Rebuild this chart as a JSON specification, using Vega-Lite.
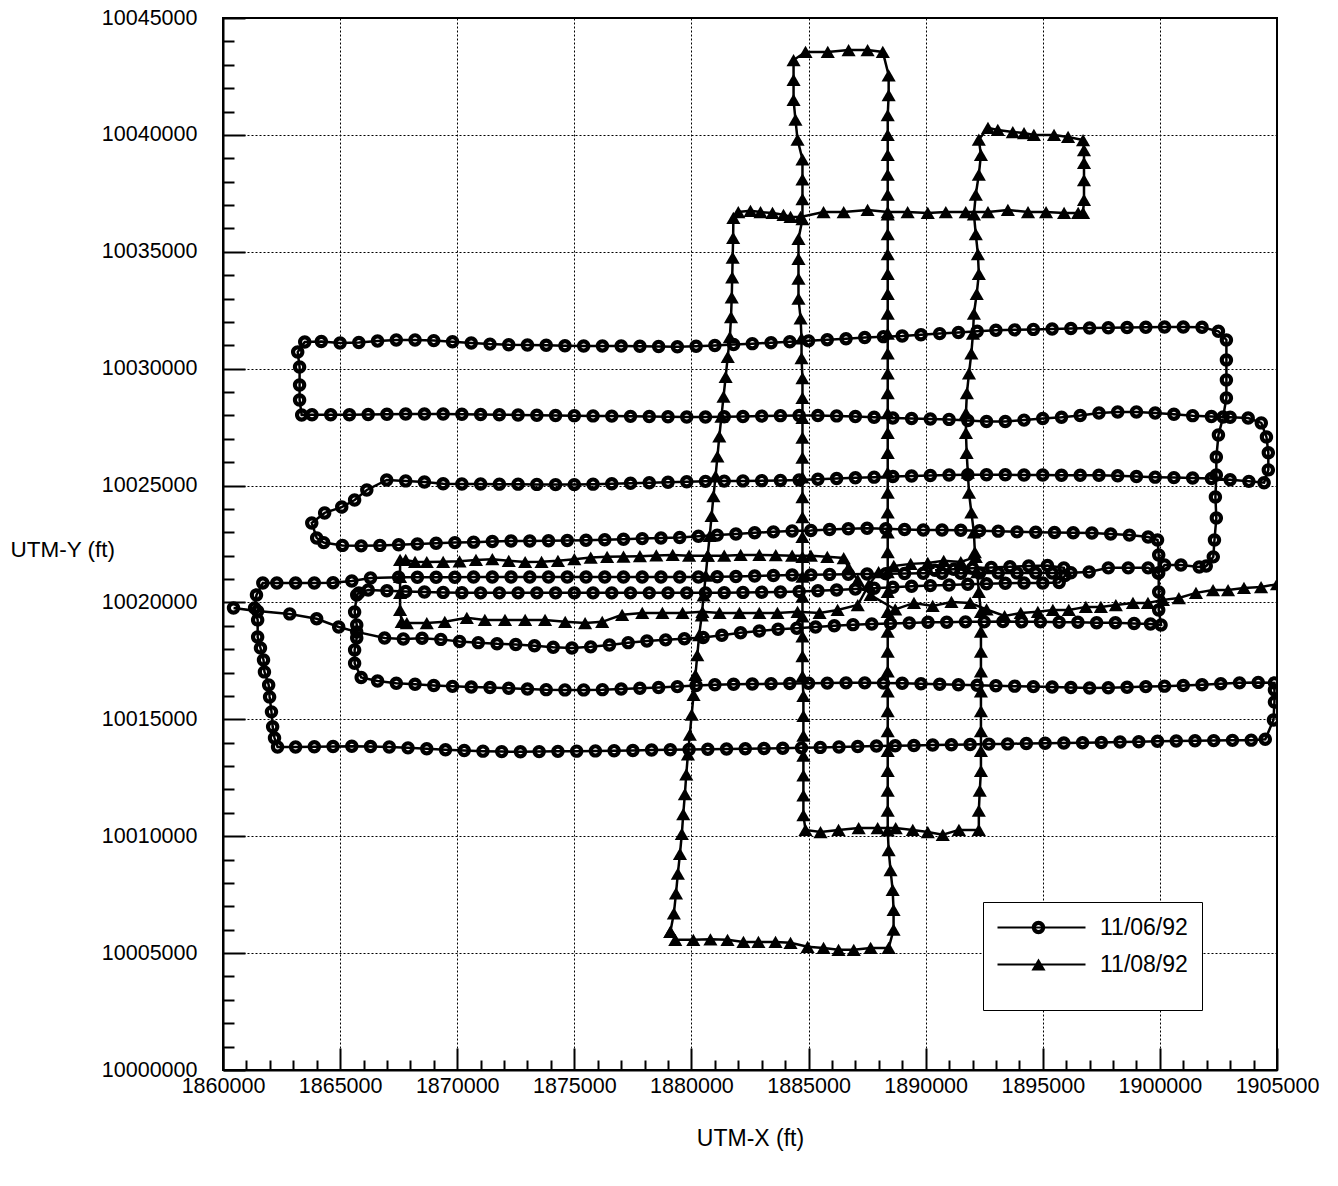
{
"$schema":"https://vega.github.io/schema/vega-lite/v6.json",
"width":1054,"height":1052,"autosize":"none",
"padding":{"left":223,"top":18,"right":61,"bottom":116},
"background":"white",
"config":{"view":{"stroke":"black","strokeWidth":2},"font":"Liberation Sans"},
"data":{"values":[
{"d":"11/06/92","s":"c","x":1860450,"y":10019760},{"d":"11/06/92","s":"c","x":1861480,"y":10019630},{"d":"11/06/92","s":"c","x":1862850,"y":10019510},{"d":"11/06/92","s":"c","x":1864000,"y":10019300},{"d":"11/06/92","s":"c","x":1864940,"y":10018950},{"d":"11/06/92","s":"c","x":1865710,"y":10018740},
{"d":"11/06/92","s":"c","x":1866900,"y":10018480},{"d":"11/06/92","s":"c","x":1867700,"y":10018440},{"d":"11/06/92","s":"c","x":1868500,"y":10018470},{"d":"11/06/92","s":"c","x":1869300,"y":10018420},{"d":"11/06/92","s":"c","x":1870100,"y":10018330},{"d":"11/06/92","s":"c","x":1870900,"y":10018280},{"d":"11/06/92","s":"c","x":1871700,"y":10018230},{"d":"11/06/92","s":"c","x":1872500,"y":10018200},{"d":"11/06/92","s":"c","x":1873300,"y":10018150},{"d":"11/06/92","s":"c","x":1874100,"y":10018080},{"d":"11/06/92","s":"c","x":1874900,"y":10018050},{"d":"11/06/92","s":"c","x":1875700,"y":10018100},{"d":"11/06/92","s":"c","x":1876500,"y":10018180},{"d":"11/06/92","s":"c","x":1877300,"y":10018280},{"d":"11/06/92","s":"c","x":1878100,"y":10018350},{"d":"11/06/92","s":"c","x":1878900,"y":10018400},{"d":"11/06/92","s":"c","x":1879700,"y":10018450},{"d":"11/06/92","s":"c","x":1880500,"y":10018500},{"d":"11/06/92","s":"c","x":1881300,"y":10018600},{"d":"11/06/92","s":"c","x":1882100,"y":10018700},{"d":"11/06/92","s":"c","x":1882900,"y":10018780},{"d":"11/06/92","s":"c","x":1883700,"y":10018850},{"d":"11/06/92","s":"c","x":1884500,"y":10018900},{"d":"11/06/92","s":"c","x":1885300,"y":10018950},{"d":"11/06/92","s":"c","x":1886100,"y":10019000},{"d":"11/06/92","s":"c","x":1886900,"y":10019050},{"d":"11/06/92","s":"c","x":1887700,"y":10019080},{"d":"11/06/92","s":"c","x":1888500,"y":10019100},{"d":"11/06/92","s":"c","x":1889300,"y":10019120},{"d":"11/06/92","s":"c","x":1890100,"y":10019150},{"d":"11/06/92","s":"c","x":1890900,"y":10019150},{"d":"11/06/92","s":"c","x":1891700,"y":10019170},{"d":"11/06/92","s":"c","x":1892500,"y":10019170},{"d":"11/06/92","s":"c","x":1893300,"y":10019180},{"d":"11/06/92","s":"c","x":1894100,"y":10019170},{"d":"11/06/92","s":"c","x":1894900,"y":10019170},{"d":"11/06/92","s":"c","x":1895700,"y":10019150},{"d":"11/06/92","s":"c","x":1896500,"y":10019150},{"d":"11/06/92","s":"c","x":1897300,"y":10019130},{"d":"11/06/92","s":"c","x":1898100,"y":10019130},{"d":"11/06/92","s":"c","x":1898900,"y":10019100},{"d":"11/06/92","s":"c","x":1899600,"y":10019080},{"d":"11/06/92","s":"c","x":1900050,"y":10019040},
{"d":"11/06/92","s":"c","x":1899950,"y":10019680},{"d":"11/06/92","s":"c","x":1899950,"y":10020450},{"d":"11/06/92","s":"c","x":1899950,"y":10021260},{"d":"11/06/92","s":"c","x":1899950,"y":10022030},{"d":"11/06/92","s":"c","x":1899900,"y":10022670},
{"d":"11/06/92","s":"c","x":1899500,"y":10022800},{"d":"11/06/92","s":"c","x":1898700,"y":10022880},{"d":"11/06/92","s":"c","x":1897900,"y":10022930},{"d":"11/06/92","s":"c","x":1897100,"y":10022970},{"d":"11/06/92","s":"c","x":1896300,"y":10022980},{"d":"11/06/92","s":"c","x":1895500,"y":10022990},{"d":"11/06/92","s":"c","x":1894700,"y":10023000},{"d":"11/06/92","s":"c","x":1893900,"y":10023020},{"d":"11/06/92","s":"c","x":1893100,"y":10023050},{"d":"11/06/92","s":"c","x":1892300,"y":10023070},{"d":"11/06/92","s":"c","x":1891500,"y":10023090},{"d":"11/06/92","s":"c","x":1890700,"y":10023100},{"d":"11/06/92","s":"c","x":1889900,"y":10023100},{"d":"11/06/92","s":"c","x":1889100,"y":10023120},{"d":"11/06/92","s":"c","x":1888300,"y":10023150},{"d":"11/06/92","s":"c","x":1887500,"y":10023170},{"d":"11/06/92","s":"c","x":1886700,"y":10023150},{"d":"11/06/92","s":"c","x":1885900,"y":10023120},{"d":"11/06/92","s":"c","x":1885100,"y":10023080},{"d":"11/06/92","s":"c","x":1884300,"y":10023060},{"d":"11/06/92","s":"c","x":1883500,"y":10023020},{"d":"11/06/92","s":"c","x":1882700,"y":10022980},{"d":"11/06/92","s":"c","x":1881900,"y":10022930},{"d":"11/06/92","s":"c","x":1881100,"y":10022880},{"d":"11/06/92","s":"c","x":1880300,"y":10022830},{"d":"11/06/92","s":"c","x":1879500,"y":10022780},{"d":"11/06/92","s":"c","x":1878700,"y":10022760},{"d":"11/06/92","s":"c","x":1877900,"y":10022730},{"d":"11/06/92","s":"c","x":1877100,"y":10022700},{"d":"11/06/92","s":"c","x":1876300,"y":10022680},{"d":"11/06/92","s":"c","x":1875500,"y":10022660},{"d":"11/06/92","s":"c","x":1874700,"y":10022650},{"d":"11/06/92","s":"c","x":1873900,"y":10022640},{"d":"11/06/92","s":"c","x":1873100,"y":10022630},{"d":"11/06/92","s":"c","x":1872300,"y":10022630},{"d":"11/06/92","s":"c","x":1871500,"y":10022610},{"d":"11/06/92","s":"c","x":1870700,"y":10022580},{"d":"11/06/92","s":"c","x":1869900,"y":10022560},{"d":"11/06/92","s":"c","x":1869100,"y":10022530},{"d":"11/06/92","s":"c","x":1868300,"y":10022500},{"d":"11/06/92","s":"c","x":1867500,"y":10022470},{"d":"11/06/92","s":"c","x":1866700,"y":10022440},{"d":"11/06/92","s":"c","x":1865900,"y":10022420},{"d":"11/06/92","s":"c","x":1865100,"y":10022440},{"d":"11/06/92","s":"c","x":1864300,"y":10022560},{"d":"11/06/92","s":"c","x":1864000,"y":10022760},
{"d":"11/06/92","s":"c","x":1863790,"y":10023400},{"d":"11/06/92","s":"c","x":1864340,"y":10023830},{"d":"11/06/92","s":"c","x":1865070,"y":10024080},{"d":"11/06/92","s":"c","x":1865620,"y":10024380},{"d":"11/06/92","s":"c","x":1866140,"y":10024810},{"d":"11/06/92","s":"c","x":1866990,"y":10025240},
{"d":"11/06/92","s":"c","x":1867800,"y":10025200},{"d":"11/06/92","s":"c","x":1868600,"y":10025150},{"d":"11/06/92","s":"c","x":1869400,"y":10025080},{"d":"11/06/92","s":"c","x":1870200,"y":10025070},{"d":"11/06/92","s":"c","x":1871000,"y":10025070},{"d":"11/06/92","s":"c","x":1871800,"y":10025060},{"d":"11/06/92","s":"c","x":1872600,"y":10025060},{"d":"11/06/92","s":"c","x":1873400,"y":10025050},{"d":"11/06/92","s":"c","x":1874200,"y":10025040},{"d":"11/06/92","s":"c","x":1875000,"y":10025040},{"d":"11/06/92","s":"c","x":1875800,"y":10025060},{"d":"11/06/92","s":"c","x":1876600,"y":10025080},{"d":"11/06/92","s":"c","x":1877400,"y":10025100},{"d":"11/06/92","s":"c","x":1878200,"y":10025120},{"d":"11/06/92","s":"c","x":1879000,"y":10025140},{"d":"11/06/92","s":"c","x":1879800,"y":10025160},{"d":"11/06/92","s":"c","x":1880600,"y":10025180},{"d":"11/06/92","s":"c","x":1881400,"y":10025190},{"d":"11/06/92","s":"c","x":1882200,"y":10025200},{"d":"11/06/92","s":"c","x":1883000,"y":10025210},{"d":"11/06/92","s":"c","x":1883800,"y":10025220},{"d":"11/06/92","s":"c","x":1884600,"y":10025240},{"d":"11/06/92","s":"c","x":1885400,"y":10025270},{"d":"11/06/92","s":"c","x":1886200,"y":10025300},{"d":"11/06/92","s":"c","x":1887000,"y":10025330},{"d":"11/06/92","s":"c","x":1887800,"y":10025360},{"d":"11/06/92","s":"c","x":1888600,"y":10025390},{"d":"11/06/92","s":"c","x":1889400,"y":10025410},{"d":"11/06/92","s":"c","x":1890200,"y":10025430},{"d":"11/06/92","s":"c","x":1891000,"y":10025450},{"d":"11/06/92","s":"c","x":1891800,"y":10025460},{"d":"11/06/92","s":"c","x":1892600,"y":10025460},{"d":"11/06/92","s":"c","x":1893400,"y":10025460},{"d":"11/06/92","s":"c","x":1894200,"y":10025450},{"d":"11/06/92","s":"c","x":1895000,"y":10025450},{"d":"11/06/92","s":"c","x":1895800,"y":10025440},{"d":"11/06/92","s":"c","x":1896600,"y":10025440},{"d":"11/06/92","s":"c","x":1897400,"y":10025440},{"d":"11/06/92","s":"c","x":1898200,"y":10025420},{"d":"11/06/92","s":"c","x":1899000,"y":10025390},{"d":"11/06/92","s":"c","x":1899800,"y":10025360},{"d":"11/06/92","s":"c","x":1900600,"y":10025340},{"d":"11/06/92","s":"c","x":1901400,"y":10025320},{"d":"11/06/92","s":"c","x":1902200,"y":10025300},{"d":"11/06/92","s":"c","x":1903000,"y":10025250},{"d":"11/06/92","s":"c","x":1903800,"y":10025180},{"d":"11/06/92","s":"c","x":1904450,"y":10025120},
{"d":"11/06/92","s":"c","x":1904630,"y":10025670},{"d":"11/06/92","s":"c","x":1904630,"y":10026400},{"d":"11/06/92","s":"c","x":1904550,"y":10027080},{"d":"11/06/92","s":"c","x":1904330,"y":10027680},{"d":"11/06/92","s":"c","x":1903770,"y":10027890},
{"d":"11/06/92","s":"c","x":1903000,"y":10027920},{"d":"11/06/92","s":"c","x":1902200,"y":10027950},{"d":"11/06/92","s":"c","x":1901400,"y":10027990},{"d":"11/06/92","s":"c","x":1900600,"y":10028050},{"d":"11/06/92","s":"c","x":1899800,"y":10028100},{"d":"11/06/92","s":"c","x":1899000,"y":10028150},{"d":"11/06/92","s":"c","x":1898200,"y":10028150},{"d":"11/06/92","s":"c","x":1897400,"y":10028100},{"d":"11/06/92","s":"c","x":1896600,"y":10028000},{"d":"11/06/92","s":"c","x":1895800,"y":10027920},{"d":"11/06/92","s":"c","x":1895000,"y":10027870},{"d":"11/06/92","s":"c","x":1894200,"y":10027800},{"d":"11/06/92","s":"c","x":1893400,"y":10027740},{"d":"11/06/92","s":"c","x":1892600,"y":10027740},{"d":"11/06/92","s":"c","x":1891800,"y":10027780},{"d":"11/06/92","s":"c","x":1891000,"y":10027830},{"d":"11/06/92","s":"c","x":1890200,"y":10027850},{"d":"11/06/92","s":"c","x":1889400,"y":10027870},{"d":"11/06/92","s":"c","x":1888600,"y":10027890},{"d":"11/06/92","s":"c","x":1887800,"y":10027920},{"d":"11/06/92","s":"c","x":1887000,"y":10027950},{"d":"11/06/92","s":"c","x":1886200,"y":10027980},{"d":"11/06/92","s":"c","x":1885400,"y":10028000},{"d":"11/06/92","s":"c","x":1884600,"y":10028000},{"d":"11/06/92","s":"c","x":1883800,"y":10027990},{"d":"11/06/92","s":"c","x":1883000,"y":10027970},{"d":"11/06/92","s":"c","x":1882200,"y":10027950},{"d":"11/06/92","s":"c","x":1881400,"y":10027940},{"d":"11/06/92","s":"c","x":1880600,"y":10027930},{"d":"11/06/92","s":"c","x":1879800,"y":10027930},{"d":"11/06/92","s":"c","x":1879000,"y":10027940},{"d":"11/06/92","s":"c","x":1878200,"y":10027950},{"d":"11/06/92","s":"c","x":1877400,"y":10027960},{"d":"11/06/92","s":"c","x":1876600,"y":10027970},{"d":"11/06/92","s":"c","x":1875800,"y":10027980},{"d":"11/06/92","s":"c","x":1875000,"y":10027990},{"d":"11/06/92","s":"c","x":1874200,"y":10028000},{"d":"11/06/92","s":"c","x":1873400,"y":10028010},{"d":"11/06/92","s":"c","x":1872600,"y":10028020},{"d":"11/06/92","s":"c","x":1871800,"y":10028030},{"d":"11/06/92","s":"c","x":1871000,"y":10028040},{"d":"11/06/92","s":"c","x":1870200,"y":10028050},{"d":"11/06/92","s":"c","x":1869400,"y":10028060},{"d":"11/06/92","s":"c","x":1868600,"y":10028060},{"d":"11/06/92","s":"c","x":1867800,"y":10028060},{"d":"11/06/92","s":"c","x":1867000,"y":10028050},{"d":"11/06/92","s":"c","x":1866200,"y":10028040},{"d":"11/06/92","s":"c","x":1865400,"y":10028030},{"d":"11/06/92","s":"c","x":1864600,"y":10028030},{"d":"11/06/92","s":"c","x":1863800,"y":10028030},{"d":"11/06/92","s":"c","x":1863360,"y":10028020},
{"d":"11/06/92","s":"c","x":1863270,"y":10028660},{"d":"11/06/92","s":"c","x":1863270,"y":10029300},{"d":"11/06/92","s":"c","x":1863270,"y":10030070},{"d":"11/06/92","s":"c","x":1863190,"y":10030710},{"d":"11/06/92","s":"c","x":1863490,"y":10031140},
{"d":"11/06/92","s":"c","x":1864200,"y":10031160},{"d":"11/06/92","s":"c","x":1865000,"y":10031100},{"d":"11/06/92","s":"c","x":1865800,"y":10031120},{"d":"11/06/92","s":"c","x":1866600,"y":10031180},{"d":"11/06/92","s":"c","x":1867400,"y":10031230},{"d":"11/06/92","s":"c","x":1868200,"y":10031230},{"d":"11/06/92","s":"c","x":1869000,"y":10031200},{"d":"11/06/92","s":"c","x":1869800,"y":10031150},{"d":"11/06/92","s":"c","x":1870600,"y":10031100},{"d":"11/06/92","s":"c","x":1871400,"y":10031050},{"d":"11/06/92","s":"c","x":1872200,"y":10031020},{"d":"11/06/92","s":"c","x":1873000,"y":10031010},{"d":"11/06/92","s":"c","x":1873800,"y":10031000},{"d":"11/06/92","s":"c","x":1874600,"y":10030980},{"d":"11/06/92","s":"c","x":1875400,"y":10030970},{"d":"11/06/92","s":"c","x":1876200,"y":10030970},{"d":"11/06/92","s":"c","x":1877000,"y":10030970},{"d":"11/06/92","s":"c","x":1877800,"y":10030960},{"d":"11/06/92","s":"c","x":1878600,"y":10030950},{"d":"11/06/92","s":"c","x":1879400,"y":10030940},{"d":"11/06/92","s":"c","x":1880200,"y":10030960},{"d":"11/06/92","s":"c","x":1881000,"y":10030990},{"d":"11/06/92","s":"c","x":1881800,"y":10031030},{"d":"11/06/92","s":"c","x":1882600,"y":10031070},{"d":"11/06/92","s":"c","x":1883400,"y":10031110},{"d":"11/06/92","s":"c","x":1884200,"y":10031150},{"d":"11/06/92","s":"c","x":1885000,"y":10031190},{"d":"11/06/92","s":"c","x":1885800,"y":10031240},{"d":"11/06/92","s":"c","x":1886600,"y":10031280},{"d":"11/06/92","s":"c","x":1887400,"y":10031330},{"d":"11/06/92","s":"c","x":1888200,"y":10031370},{"d":"11/06/92","s":"c","x":1889000,"y":10031400},{"d":"11/06/92","s":"c","x":1889800,"y":10031450},{"d":"11/06/92","s":"c","x":1890600,"y":10031500},{"d":"11/06/92","s":"c","x":1891400,"y":10031550},{"d":"11/06/92","s":"c","x":1892200,"y":10031600},{"d":"11/06/92","s":"c","x":1893000,"y":10031640},{"d":"11/06/92","s":"c","x":1893800,"y":10031660},{"d":"11/06/92","s":"c","x":1894600,"y":10031680},{"d":"11/06/92","s":"c","x":1895400,"y":10031700},{"d":"11/06/92","s":"c","x":1896200,"y":10031720},{"d":"11/06/92","s":"c","x":1897000,"y":10031740},{"d":"11/06/92","s":"c","x":1897800,"y":10031750},{"d":"11/06/92","s":"c","x":1898600,"y":10031760},{"d":"11/06/92","s":"c","x":1899400,"y":10031770},{"d":"11/06/92","s":"c","x":1900200,"y":10031780},{"d":"11/06/92","s":"c","x":1901000,"y":10031780},{"d":"11/06/92","s":"c","x":1901800,"y":10031770},{"d":"11/06/92","s":"c","x":1902500,"y":10031600},
{"d":"11/06/92","s":"c","x":1902840,"y":10031230},{"d":"11/06/92","s":"c","x":1902840,"y":10030370},{"d":"11/06/92","s":"c","x":1902840,"y":10029520},{"d":"11/06/92","s":"c","x":1902840,"y":10028750},{"d":"11/06/92","s":"c","x":1902700,"y":10027930},{"d":"11/06/92","s":"c","x":1902500,"y":10027160},{"d":"11/06/92","s":"c","x":1902410,"y":10026220},{"d":"11/06/92","s":"c","x":1902410,"y":10025450},{"d":"11/06/92","s":"c","x":1902370,"y":10024510},{"d":"11/06/92","s":"c","x":1902410,"y":10023610},{"d":"11/06/92","s":"c","x":1902330,"y":10022670},{"d":"11/06/92","s":"c","x":1902280,"y":10021950},
{"d":"11/06/92","s":"c","x":1901980,"y":10021560},{"d":"11/06/92","s":"c","x":1901680,"y":10021520},{"d":"11/06/92","s":"c","x":1900900,"y":10021600},{"d":"11/06/92","s":"c","x":1900200,"y":10021600},{"d":"11/06/92","s":"c","x":1899930,"y":10021260},{"d":"11/06/92","s":"c","x":1899500,"y":10021480},{"d":"11/06/92","s":"c","x":1898650,"y":10021480},{"d":"11/06/92","s":"c","x":1897800,"y":10021480},{"d":"11/06/92","s":"c","x":1896980,"y":10021300},{"d":"11/06/92","s":"c","x":1896200,"y":10021270},{"d":"11/06/92","s":"c","x":1895400,"y":10021260},{"d":"11/06/92","s":"c","x":1894700,"y":10021260},{"d":"11/06/92","s":"c","x":1893900,"y":10021260},{"d":"11/06/92","s":"c","x":1893100,"y":10021260},{"d":"11/06/92","s":"c","x":1892300,"y":10021260},{"d":"11/06/92","s":"c","x":1891500,"y":10021250},{"d":"11/06/92","s":"c","x":1890700,"y":10021250},{"d":"11/06/92","s":"c","x":1889900,"y":10021250},{"d":"11/06/92","s":"c","x":1889100,"y":10021240},{"d":"11/06/92","s":"c","x":1888300,"y":10021230},{"d":"11/06/92","s":"c","x":1887500,"y":10021220},{"d":"11/06/92","s":"c","x":1886700,"y":10021210},{"d":"11/06/92","s":"c","x":1885900,"y":10021200},{"d":"11/06/92","s":"c","x":1885100,"y":10021180},{"d":"11/06/92","s":"c","x":1884300,"y":10021170},{"d":"11/06/92","s":"c","x":1883500,"y":10021150},{"d":"11/06/92","s":"c","x":1882700,"y":10021130},{"d":"11/06/92","s":"c","x":1881900,"y":10021110},{"d":"11/06/92","s":"c","x":1881100,"y":10021100},{"d":"11/06/92","s":"c","x":1880300,"y":10021090},{"d":"11/06/92","s":"c","x":1879500,"y":10021090},{"d":"11/06/92","s":"c","x":1878700,"y":10021090},{"d":"11/06/92","s":"c","x":1877900,"y":10021090},{"d":"11/06/92","s":"c","x":1877100,"y":10021090},{"d":"11/06/92","s":"c","x":1876300,"y":10021090},{"d":"11/06/92","s":"c","x":1875500,"y":10021090},{"d":"11/06/92","s":"c","x":1874700,"y":10021090},{"d":"11/06/92","s":"c","x":1873900,"y":10021090},{"d":"11/06/92","s":"c","x":1873100,"y":10021090},{"d":"11/06/92","s":"c","x":1872300,"y":10021090},{"d":"11/06/92","s":"c","x":1871500,"y":10021090},{"d":"11/06/92","s":"c","x":1870700,"y":10021090},{"d":"11/06/92","s":"c","x":1869900,"y":10021080},{"d":"11/06/92","s":"c","x":1869100,"y":10021080},{"d":"11/06/92","s":"c","x":1868300,"y":10021080},{"d":"11/06/92","s":"c","x":1867500,"y":10021080},{"d":"11/06/92","s":"c","x":1866300,"y":10021050},{"d":"11/06/92","s":"c","x":1865500,"y":10020920},{"d":"11/06/92","s":"c","x":1864700,"y":10020840},{"d":"11/06/92","s":"c","x":1863900,"y":10020830},{"d":"11/06/92","s":"c","x":1863100,"y":10020830},{"d":"11/06/92","s":"c","x":1862300,"y":10020830},{"d":"11/06/92","s":"c","x":1861700,"y":10020830},
{"d":"11/06/92","s":"c","x":1861430,"y":10020320},{"d":"11/06/92","s":"c","x":1861350,"y":10019760},{"d":"11/06/92","s":"c","x":1861480,"y":10019250},{"d":"11/06/92","s":"c","x":1861480,"y":10018520},{"d":"11/06/92","s":"c","x":1861600,"y":10018050},{"d":"11/06/92","s":"c","x":1861730,"y":10017540},{"d":"11/06/92","s":"c","x":1861770,"y":10017030},{"d":"11/06/92","s":"c","x":1861950,"y":10016470},{"d":"11/06/92","s":"c","x":1861990,"y":10015960},{"d":"11/06/92","s":"c","x":1862070,"y":10015320},{"d":"11/06/92","s":"c","x":1862120,"y":10014680},{"d":"11/06/92","s":"c","x":1862200,"y":10014200},{"d":"11/06/92","s":"c","x":1862330,"y":10013820},
{"d":"11/06/92","s":"c","x":1863100,"y":10013820},{"d":"11/06/92","s":"c","x":1863900,"y":10013830},{"d":"11/06/92","s":"c","x":1864700,"y":10013840},{"d":"11/06/92","s":"c","x":1865500,"y":10013850},{"d":"11/06/92","s":"c","x":1866300,"y":10013840},{"d":"11/06/92","s":"c","x":1867100,"y":10013820},{"d":"11/06/92","s":"c","x":1867900,"y":10013780},{"d":"11/06/92","s":"c","x":1868700,"y":10013740},{"d":"11/06/92","s":"c","x":1869500,"y":10013700},{"d":"11/06/92","s":"c","x":1870300,"y":10013670},{"d":"11/06/92","s":"c","x":1871100,"y":10013640},{"d":"11/06/92","s":"c","x":1871900,"y":10013620},{"d":"11/06/92","s":"c","x":1872700,"y":10013610},{"d":"11/06/92","s":"c","x":1873500,"y":10013620},{"d":"11/06/92","s":"c","x":1874300,"y":10013630},{"d":"11/06/92","s":"c","x":1875100,"y":10013640},{"d":"11/06/92","s":"c","x":1875900,"y":10013650},{"d":"11/06/92","s":"c","x":1876700,"y":10013660},{"d":"11/06/92","s":"c","x":1877500,"y":10013670},{"d":"11/06/92","s":"c","x":1878300,"y":10013690},{"d":"11/06/92","s":"c","x":1879100,"y":10013700},{"d":"11/06/92","s":"c","x":1879900,"y":10013710},{"d":"11/06/92","s":"c","x":1880700,"y":10013720},{"d":"11/06/92","s":"c","x":1881500,"y":10013730},{"d":"11/06/92","s":"c","x":1882300,"y":10013740},{"d":"11/06/92","s":"c","x":1883100,"y":10013750},{"d":"11/06/92","s":"c","x":1883900,"y":10013760},{"d":"11/06/92","s":"c","x":1884700,"y":10013780},{"d":"11/06/92","s":"c","x":1885500,"y":10013800},{"d":"11/06/92","s":"c","x":1886300,"y":10013820},{"d":"11/06/92","s":"c","x":1887100,"y":10013840},{"d":"11/06/92","s":"c","x":1887900,"y":10013860},{"d":"11/06/92","s":"c","x":1888700,"y":10013870},{"d":"11/06/92","s":"c","x":1889500,"y":10013880},{"d":"11/06/92","s":"c","x":1890300,"y":10013900},{"d":"11/06/92","s":"c","x":1891100,"y":10013910},{"d":"11/06/92","s":"c","x":1891900,"y":10013920},{"d":"11/06/92","s":"c","x":1892700,"y":10013940},{"d":"11/06/92","s":"c","x":1893500,"y":10013950},{"d":"11/06/92","s":"c","x":1894300,"y":10013970},{"d":"11/06/92","s":"c","x":1895100,"y":10013980},{"d":"11/06/92","s":"c","x":1895900,"y":10013990},{"d":"11/06/92","s":"c","x":1896700,"y":10014000},{"d":"11/06/92","s":"c","x":1897500,"y":10014010},{"d":"11/06/92","s":"c","x":1898300,"y":10014030},{"d":"11/06/92","s":"c","x":1899100,"y":10014040},{"d":"11/06/92","s":"c","x":1899900,"y":10014060},{"d":"11/06/92","s":"c","x":1900700,"y":10014070},{"d":"11/06/92","s":"c","x":1901500,"y":10014080},{"d":"11/06/92","s":"c","x":1902300,"y":10014090},{"d":"11/06/92","s":"c","x":1903100,"y":10014100},{"d":"11/06/92","s":"c","x":1903900,"y":10014110},{"d":"11/06/92","s":"c","x":1904500,"y":10014150},
{"d":"11/06/92","s":"c","x":1904850,"y":10014970},{"d":"11/06/92","s":"c","x":1904890,"y":10015740},{"d":"11/06/92","s":"c","x":1904890,"y":10016260},{"d":"11/06/92","s":"c","x":1904890,"y":10016560},
{"d":"11/06/92","s":"c","x":1904200,"y":10016580},{"d":"11/06/92","s":"c","x":1903400,"y":10016560},{"d":"11/06/92","s":"c","x":1902600,"y":10016520},{"d":"11/06/92","s":"c","x":1901800,"y":10016480},{"d":"11/06/92","s":"c","x":1901000,"y":10016450},{"d":"11/06/92","s":"c","x":1900200,"y":10016420},{"d":"11/06/92","s":"c","x":1899400,"y":10016400},{"d":"11/06/92","s":"c","x":1898600,"y":10016370},{"d":"11/06/92","s":"c","x":1897800,"y":10016350},{"d":"11/06/92","s":"c","x":1897000,"y":10016340},{"d":"11/06/92","s":"c","x":1896200,"y":10016360},{"d":"11/06/92","s":"c","x":1895400,"y":10016380},{"d":"11/06/92","s":"c","x":1894600,"y":10016400},{"d":"11/06/92","s":"c","x":1893800,"y":10016420},{"d":"11/06/92","s":"c","x":1893000,"y":10016440},{"d":"11/06/92","s":"c","x":1892200,"y":10016460},{"d":"11/06/92","s":"c","x":1891400,"y":10016480},{"d":"11/06/92","s":"c","x":1890600,"y":10016500},{"d":"11/06/92","s":"c","x":1889800,"y":10016520},{"d":"11/06/92","s":"c","x":1889000,"y":10016540},{"d":"11/06/92","s":"c","x":1888200,"y":10016550},{"d":"11/06/92","s":"c","x":1887400,"y":10016560},{"d":"11/06/92","s":"c","x":1886600,"y":10016560},{"d":"11/06/92","s":"c","x":1885800,"y":10016550},{"d":"11/06/92","s":"c","x":1885000,"y":10016540},{"d":"11/06/92","s":"c","x":1884200,"y":10016530},{"d":"11/06/92","s":"c","x":1883400,"y":10016520},{"d":"11/06/92","s":"c","x":1882600,"y":10016510},{"d":"11/06/92","s":"c","x":1881800,"y":10016500},{"d":"11/06/92","s":"c","x":1881000,"y":10016480},{"d":"11/06/92","s":"c","x":1880200,"y":10016450},{"d":"11/06/92","s":"c","x":1879400,"y":10016400},{"d":"11/06/92","s":"c","x":1878600,"y":10016360},{"d":"11/06/92","s":"c","x":1877800,"y":10016330},{"d":"11/06/92","s":"c","x":1877000,"y":10016300},{"d":"11/06/92","s":"c","x":1876200,"y":10016270},{"d":"11/06/92","s":"c","x":1875400,"y":10016260},{"d":"11/06/92","s":"c","x":1874600,"y":10016260},{"d":"11/06/92","s":"c","x":1873800,"y":10016270},{"d":"11/06/92","s":"c","x":1873000,"y":10016300},{"d":"11/06/92","s":"c","x":1872200,"y":10016330},{"d":"11/06/92","s":"c","x":1871400,"y":10016360},{"d":"11/06/92","s":"c","x":1870600,"y":10016380},{"d":"11/06/92","s":"c","x":1869800,"y":10016410},{"d":"11/06/92","s":"c","x":1869000,"y":10016450},{"d":"11/06/92","s":"c","x":1868200,"y":10016500},{"d":"11/06/92","s":"c","x":1867400,"y":10016540},{"d":"11/06/92","s":"c","x":1866600,"y":10016640},{"d":"11/06/92","s":"c","x":1865900,"y":10016790},
{"d":"11/06/92","s":"c","x":1865620,"y":10017400},{"d":"11/06/92","s":"c","x":1865620,"y":10017970},{"d":"11/06/92","s":"c","x":1865710,"y":10018480},{"d":"11/06/92","s":"c","x":1865710,"y":10019040},{"d":"11/06/92","s":"c","x":1865620,"y":10019590},{"d":"11/06/92","s":"c","x":1865710,"y":10020320},{"d":"11/06/92","s":"c","x":1865800,"y":10020410},
{"d":"11/06/92","s":"c","x":1866200,"y":10020530},{"d":"11/06/92","s":"c","x":1867000,"y":10020500},{"d":"11/06/92","s":"c","x":1867800,"y":10020470},{"d":"11/06/92","s":"c","x":1868600,"y":10020450},{"d":"11/06/92","s":"c","x":1869400,"y":10020430},{"d":"11/06/92","s":"c","x":1870200,"y":10020420},{"d":"11/06/92","s":"c","x":1871000,"y":10020410},{"d":"11/06/92","s":"c","x":1871800,"y":10020410},{"d":"11/06/92","s":"c","x":1872600,"y":10020410},{"d":"11/06/92","s":"c","x":1873400,"y":10020410},{"d":"11/06/92","s":"c","x":1874200,"y":10020410},{"d":"11/06/92","s":"c","x":1875000,"y":10020410},{"d":"11/06/92","s":"c","x":1875800,"y":10020410},{"d":"11/06/92","s":"c","x":1876600,"y":10020410},{"d":"11/06/92","s":"c","x":1877400,"y":10020410},{"d":"11/06/92","s":"c","x":1878200,"y":10020410},{"d":"11/06/92","s":"c","x":1879000,"y":10020410},{"d":"11/06/92","s":"c","x":1879800,"y":10020410},{"d":"11/06/92","s":"c","x":1880600,"y":10020410},{"d":"11/06/92","s":"c","x":1881400,"y":10020420},{"d":"11/06/92","s":"c","x":1882200,"y":10020430},{"d":"11/06/92","s":"c","x":1883000,"y":10020440},{"d":"11/06/92","s":"c","x":1883800,"y":10020450},{"d":"11/06/92","s":"c","x":1884600,"y":10020470},{"d":"11/06/92","s":"c","x":1885400,"y":10020500},{"d":"11/06/92","s":"c","x":1886200,"y":10020530},{"d":"11/06/92","s":"c","x":1887000,"y":10020570},{"d":"11/06/92","s":"c","x":1887800,"y":10020610},{"d":"11/06/92","s":"c","x":1888600,"y":10020650},{"d":"11/06/92","s":"c","x":1889400,"y":10020690},{"d":"11/06/92","s":"c","x":1890200,"y":10020720},{"d":"11/06/92","s":"c","x":1891000,"y":10020750},{"d":"11/06/92","s":"c","x":1891800,"y":10020780},{"d":"11/06/92","s":"c","x":1892600,"y":10020800},{"d":"11/06/92","s":"c","x":1893400,"y":10020820},{"d":"11/06/92","s":"c","x":1894200,"y":10020830},{"d":"11/06/92","s":"c","x":1895000,"y":10020830},{"d":"11/06/92","s":"c","x":1895700,"y":10020850},{"d":"11/06/92","s":"c","x":1895950,"y":10021150},{"d":"11/06/92","s":"c","x":1895900,"y":10021480},{"d":"11/06/92","s":"c","x":1895200,"y":10021580},{"d":"11/06/92","s":"c","x":1894400,"y":10021560},{"d":"11/06/92","s":"c","x":1893600,"y":10021530},{"d":"11/06/92","s":"c","x":1892800,"y":10021500},{"d":"11/06/92","s":"c","x":1892000,"y":10021460},{"d":"11/06/92","s":"c","x":1891200,"y":10021420},{"d":"11/06/92","s":"c","x":1890400,"y":10021380},
{"d":"11/08/92","s":"ta","x":1879100,"y":10005910},{"d":"11/08/92","s":"ta","x":1879310,"y":10005570},{"d":"11/08/92","s":"ta","x":1880080,"y":10005570},{"d":"11/08/92","s":"ta","x":1880810,"y":10005590},{"d":"11/08/92","s":"ta","x":1881540,"y":10005570},{"d":"11/08/92","s":"ta","x":1882220,"y":10005480},{"d":"11/08/92","s":"ta","x":1882860,"y":10005480},{"d":"11/08/92","s":"ta","x":1883590,"y":10005480},{"d":"11/08/92","s":"ta","x":1884230,"y":10005440},{"d":"11/08/92","s":"ta","x":1884960,"y":10005270},{"d":"11/08/92","s":"ta","x":1885640,"y":10005220},{"d":"11/08/92","s":"ta","x":1886280,"y":10005140},{"d":"11/08/92","s":"ta","x":1886930,"y":10005140},{"d":"11/08/92","s":"ta","x":1887650,"y":10005220},{"d":"11/08/92","s":"ta","x":1888420,"y":10005220},
{"d":"11/08/92","s":"ta","x":1888630,"y":10006000},{"d":"11/08/92","s":"ta","x":1888630,"y":10006850},{"d":"11/08/92","s":"ta","x":1888590,"y":10007700},{"d":"11/08/92","s":"ta","x":1888500,"y":10008550},{"d":"11/08/92","s":"ta","x":1888420,"y":10009400},{"d":"11/08/92","s":"ta","x":1888380,"y":10010250},{"d":"11/08/92","s":"ta","x":1888380,"y":10011100},{"d":"11/08/92","s":"ta","x":1888380,"y":10011950},{"d":"11/08/92","s":"ta","x":1888380,"y":10012800},{"d":"11/08/92","s":"ta","x":1888380,"y":10013650},{"d":"11/08/92","s":"ta","x":1888380,"y":10014500},{"d":"11/08/92","s":"ta","x":1888380,"y":10015350},{"d":"11/08/92","s":"ta","x":1888380,"y":10016200},{"d":"11/08/92","s":"ta","x":1888380,"y":10017050},{"d":"11/08/92","s":"ta","x":1888380,"y":10017900},{"d":"11/08/92","s":"ta","x":1888380,"y":10018750},{"d":"11/08/92","s":"ta","x":1888380,"y":10019600},{"d":"11/08/92","s":"ta","x":1888380,"y":10020450},{"d":"11/08/92","s":"ta","x":1888380,"y":10021300},{"d":"11/08/92","s":"ta","x":1888380,"y":10022150},{"d":"11/08/92","s":"ta","x":1888380,"y":10023000},{"d":"11/08/92","s":"ta","x":1888380,"y":10023850},{"d":"11/08/92","s":"ta","x":1888380,"y":10024700},{"d":"11/08/92","s":"ta","x":1888380,"y":10025550},{"d":"11/08/92","s":"ta","x":1888380,"y":10026400},{"d":"11/08/92","s":"ta","x":1888380,"y":10027250},{"d":"11/08/92","s":"ta","x":1888380,"y":10028100},{"d":"11/08/92","s":"ta","x":1888380,"y":10028950},{"d":"11/08/92","s":"ta","x":1888380,"y":10029800},{"d":"11/08/92","s":"ta","x":1888380,"y":10030650},{"d":"11/08/92","s":"ta","x":1888380,"y":10031500},{"d":"11/08/92","s":"ta","x":1888380,"y":10032350},{"d":"11/08/92","s":"ta","x":1888380,"y":10033200},{"d":"11/08/92","s":"ta","x":1888380,"y":10034050},{"d":"11/08/92","s":"ta","x":1888380,"y":10034900},{"d":"11/08/92","s":"ta","x":1888380,"y":10035750},{"d":"11/08/92","s":"ta","x":1888380,"y":10036600},{"d":"11/08/92","s":"ta","x":1888380,"y":10037450},{"d":"11/08/92","s":"ta","x":1888380,"y":10038300},{"d":"11/08/92","s":"ta","x":1888380,"y":10039150},{"d":"11/08/92","s":"ta","x":1888380,"y":10040000},{"d":"11/08/92","s":"ta","x":1888380,"y":10040850},{"d":"11/08/92","s":"ta","x":1888420,"y":10041700},{"d":"11/08/92","s":"ta","x":1888420,"y":10042550},{"d":"11/08/92","s":"ta","x":1888170,"y":10043550},
{"d":"11/08/92","s":"ta","x":1887520,"y":10043630},{"d":"11/08/92","s":"ta","x":1886710,"y":10043630},{"d":"11/08/92","s":"ta","x":1885820,"y":10043550},{"d":"11/08/92","s":"ta","x":1884870,"y":10043550},{"d":"11/08/92","s":"ta","x":1884360,"y":10043200},
{"d":"11/08/92","s":"ta","x":1884360,"y":10042350},{"d":"11/08/92","s":"ta","x":1884360,"y":10041500},{"d":"11/08/92","s":"ta","x":1884440,"y":10040650},{"d":"11/08/92","s":"ta","x":1884530,"y":10039800},{"d":"11/08/92","s":"ta","x":1884740,"y":10038950},{"d":"11/08/92","s":"ta","x":1884740,"y":10038100},{"d":"11/08/92","s":"ta","x":1884740,"y":10037250},{"d":"11/08/92","s":"ta","x":1884740,"y":10036400},{"d":"11/08/92","s":"ta","x":1884570,"y":10035550},{"d":"11/08/92","s":"ta","x":1884570,"y":10034700},{"d":"11/08/92","s":"ta","x":1884570,"y":10033850},{"d":"11/08/92","s":"ta","x":1884570,"y":10033000},{"d":"11/08/92","s":"ta","x":1884660,"y":10032150},{"d":"11/08/92","s":"ta","x":1884700,"y":10031300},{"d":"11/08/92","s":"ta","x":1884700,"y":10030450},{"d":"11/08/92","s":"ta","x":1884740,"y":10029600},{"d":"11/08/92","s":"ta","x":1884740,"y":10028750},{"d":"11/08/92","s":"ta","x":1884740,"y":10027900},{"d":"11/08/92","s":"ta","x":1884740,"y":10027050},{"d":"11/08/92","s":"ta","x":1884740,"y":10026200},{"d":"11/08/92","s":"ta","x":1884740,"y":10025350},{"d":"11/08/92","s":"ta","x":1884740,"y":10024500},{"d":"11/08/92","s":"ta","x":1884740,"y":10023650},{"d":"11/08/92","s":"ta","x":1884740,"y":10022800},{"d":"11/08/92","s":"ta","x":1884740,"y":10021950},{"d":"11/08/92","s":"ta","x":1884740,"y":10021100},{"d":"11/08/92","s":"ta","x":1884740,"y":10020250},{"d":"11/08/92","s":"ta","x":1884740,"y":10019400},{"d":"11/08/92","s":"ta","x":1884740,"y":10018550},{"d":"11/08/92","s":"ta","x":1884740,"y":10017700},{"d":"11/08/92","s":"ta","x":1884740,"y":10016850},{"d":"11/08/92","s":"ta","x":1884780,"y":10016000},{"d":"11/08/92","s":"ta","x":1884780,"y":10015150},{"d":"11/08/92","s":"ta","x":1884780,"y":10014300},{"d":"11/08/92","s":"ta","x":1884780,"y":10013450},{"d":"11/08/92","s":"ta","x":1884780,"y":10012600},{"d":"11/08/92","s":"ta","x":1884780,"y":10011750},{"d":"11/08/92","s":"ta","x":1884780,"y":10010900},{"d":"11/08/92","s":"ta","x":1884870,"y":10010270},
{"d":"11/08/92","s":"ta","x":1885510,"y":10010180},{"d":"11/08/92","s":"ta","x":1886280,"y":10010270},{"d":"11/08/92","s":"ta","x":1887140,"y":10010350},{"d":"11/08/92","s":"ta","x":1887950,"y":10010350},{"d":"11/08/92","s":"ta","x":1888720,"y":10010350},{"d":"11/08/92","s":"ta","x":1889450,"y":10010270},{"d":"11/08/92","s":"ta","x":1890090,"y":10010180},{"d":"11/08/92","s":"ta","x":1890730,"y":10010060},{"d":"11/08/92","s":"ta","x":1891420,"y":10010270},{"d":"11/08/92","s":"ta","x":1892270,"y":10010270},
{"d":"11/08/92","s":"ta","x":1892270,"y":10011100},{"d":"11/08/92","s":"ta","x":1892310,"y":10011950},{"d":"11/08/92","s":"ta","x":1892360,"y":10012800},{"d":"11/08/92","s":"ta","x":1892360,"y":10013650},{"d":"11/08/92","s":"ta","x":1892360,"y":10014500},{"d":"11/08/92","s":"ta","x":1892360,"y":10015350},{"d":"11/08/92","s":"ta","x":1892360,"y":10016200},{"d":"11/08/92","s":"ta","x":1892360,"y":10017050},{"d":"11/08/92","s":"ta","x":1892360,"y":10017900},{"d":"11/08/92","s":"ta","x":1892360,"y":10018750},{"d":"11/08/92","s":"ta","x":1892360,"y":10019600},{"d":"11/08/92","s":"ta","x":1892270,"y":10020450},{"d":"11/08/92","s":"ta","x":1892200,"y":10021300},{"d":"11/08/92","s":"ta","x":1892100,"y":10022150},{"d":"11/08/92","s":"ta","x":1892060,"y":10023000},{"d":"11/08/92","s":"ta","x":1891950,"y":10023850},{"d":"11/08/92","s":"ta","x":1891850,"y":10024700},{"d":"11/08/92","s":"ta","x":1891800,"y":10025550},{"d":"11/08/92","s":"ta","x":1891750,"y":10026400},{"d":"11/08/92","s":"ta","x":1891720,"y":10027250},{"d":"11/08/92","s":"ta","x":1891720,"y":10028100},{"d":"11/08/92","s":"ta","x":1891760,"y":10028950},{"d":"11/08/92","s":"ta","x":1891850,"y":10029800},{"d":"11/08/92","s":"ta","x":1891950,"y":10030650},{"d":"11/08/92","s":"ta","x":1892020,"y":10031500},{"d":"11/08/92","s":"ta","x":1892060,"y":10032350},{"d":"11/08/92","s":"ta","x":1892180,"y":10033200},{"d":"11/08/92","s":"ta","x":1892270,"y":10034050},{"d":"11/08/92","s":"ta","x":1892230,"y":10034900},{"d":"11/08/92","s":"ta","x":1892140,"y":10035750},{"d":"11/08/92","s":"ta","x":1892060,"y":10036600},{"d":"11/08/92","s":"ta","x":1892140,"y":10037450},{"d":"11/08/92","s":"ta","x":1892270,"y":10038300},{"d":"11/08/92","s":"ta","x":1892360,"y":10039150},{"d":"11/08/92","s":"ta","x":1892270,"y":10039800},
{"d":"11/08/92","s":"ta","x":1892660,"y":10040300},{"d":"11/08/92","s":"ta","x":1893080,"y":10040210},{"d":"11/08/92","s":"ta","x":1893720,"y":10040120},{"d":"11/08/92","s":"ta","x":1894200,"y":10040080},{"d":"11/08/92","s":"ta","x":1894620,"y":10040000},{"d":"11/08/92","s":"ta","x":1895480,"y":10040000},{"d":"11/08/92","s":"ta","x":1896080,"y":10039910},{"d":"11/08/92","s":"ta","x":1896720,"y":10039780},
{"d":"11/08/92","s":"ta","x":1896760,"y":10039350},{"d":"11/08/92","s":"ta","x":1896760,"y":10038800},{"d":"11/08/92","s":"ta","x":1896760,"y":10038070},{"d":"11/08/92","s":"ta","x":1896760,"y":10037220},{"d":"11/08/92","s":"ta","x":1896720,"y":10036660},
{"d":"11/08/92","s":"ta","x":1896510,"y":10036660},{"d":"11/08/92","s":"ta","x":1895910,"y":10036660},{"d":"11/08/92","s":"ta","x":1895140,"y":10036700},{"d":"11/08/92","s":"ta","x":1894370,"y":10036700},{"d":"11/08/92","s":"ta","x":1893510,"y":10036790},{"d":"11/08/92","s":"ta","x":1892660,"y":10036700},{"d":"11/08/92","s":"ta","x":1891710,"y":10036700},{"d":"11/08/92","s":"ta","x":1890860,"y":10036700},{"d":"11/08/92","s":"ta","x":1890090,"y":10036660},{"d":"11/08/92","s":"ta","x":1889230,"y":10036700},{"d":"11/08/92","s":"ta","x":1888380,"y":10036700},{"d":"11/08/92","s":"ta","x":1887520,"y":10036790},{"d":"11/08/92","s":"ta","x":1886500,"y":10036700},{"d":"11/08/92","s":"ta","x":1885640,"y":10036700},{"d":"11/08/92","s":"ta","x":1884660,"y":10036490},{"d":"11/08/92","s":"ta","x":1884230,"y":10036490},{"d":"11/08/92","s":"ta","x":1883930,"y":10036580},{"d":"11/08/92","s":"ta","x":1883460,"y":10036660},{"d":"11/08/92","s":"ta","x":1882950,"y":10036700},{"d":"11/08/92","s":"ta","x":1882520,"y":10036750},{"d":"11/08/92","s":"ta","x":1882000,"y":10036700},{"d":"11/08/92","s":"ta","x":1881790,"y":10036450},
{"d":"11/08/92","s":"ta","x":1881780,"y":10035600},{"d":"11/08/92","s":"ta","x":1881760,"y":10034750},{"d":"11/08/92","s":"ta","x":1881740,"y":10033900},{"d":"11/08/92","s":"ta","x":1881720,"y":10033050},{"d":"11/08/92","s":"ta","x":1881690,"y":10032200},{"d":"11/08/92","s":"ta","x":1881640,"y":10031350},{"d":"11/08/92","s":"ta","x":1881550,"y":10030500},{"d":"11/08/92","s":"ta","x":1881460,"y":10029650},{"d":"11/08/92","s":"ta","x":1881370,"y":10028800},{"d":"11/08/92","s":"ta","x":1881280,"y":10027950},{"d":"11/08/92","s":"ta","x":1881190,"y":10027100},{"d":"11/08/92","s":"ta","x":1881110,"y":10026250},{"d":"11/08/92","s":"ta","x":1881030,"y":10025400},{"d":"11/08/92","s":"ta","x":1880940,"y":10024550},{"d":"11/08/92","s":"ta","x":1880860,"y":10023700},{"d":"11/08/92","s":"ta","x":1880780,"y":10022850},{"d":"11/08/92","s":"ta","x":1880690,"y":10022000},{"d":"11/08/92","s":"ta","x":1880610,"y":10021150},{"d":"11/08/92","s":"ta","x":1880520,"y":10020300},{"d":"11/08/92","s":"ta","x":1880440,"y":10019450},{"d":"11/08/92","s":"ta","x":1880330,"y":10018600},{"d":"11/08/92","s":"ta","x":1880250,"y":10017750},{"d":"11/08/92","s":"ta","x":1880170,"y":10016900},{"d":"11/08/92","s":"ta","x":1880090,"y":10016050},{"d":"11/08/92","s":"ta","x":1880010,"y":10015200},{"d":"11/08/92","s":"ta","x":1879930,"y":10014350},{"d":"11/08/92","s":"ta","x":1879850,"y":10013500},{"d":"11/08/92","s":"ta","x":1879780,"y":10012650},{"d":"11/08/92","s":"ta","x":1879720,"y":10011800},{"d":"11/08/92","s":"ta","x":1879650,"y":10010950},{"d":"11/08/92","s":"ta","x":1879590,"y":10010100},{"d":"11/08/92","s":"ta","x":1879510,"y":10009250},{"d":"11/08/92","s":"ta","x":1879420,"y":10008400},{"d":"11/08/92","s":"ta","x":1879340,"y":10007550},{"d":"11/08/92","s":"ta","x":1879250,"y":10006700},{"d":"11/08/92","s":"ta","x":1879100,"y":10005910},
{"d":"11/08/92","s":"tb","x":1905000,"y":10020780},{"d":"11/08/92","s":"tb","x":1904320,"y":10020660},{"d":"11/08/92","s":"tb","x":1903590,"y":10020620},{"d":"11/08/92","s":"tb","x":1902910,"y":10020530},{"d":"11/08/92","s":"tb","x":1902270,"y":10020530},{"d":"11/08/92","s":"tb","x":1901540,"y":10020410},{"d":"11/08/92","s":"tb","x":1900810,"y":10020190},{"d":"11/08/92","s":"tb","x":1900130,"y":10020110},{"d":"11/08/92","s":"tb","x":1899490,"y":10019980},{"d":"11/08/92","s":"tb","x":1898850,"y":10019980},{"d":"11/08/92","s":"tb","x":1898120,"y":10019890},{"d":"11/08/92","s":"tb","x":1897480,"y":10019810},{"d":"11/08/92","s":"tb","x":1896840,"y":10019810},{"d":"11/08/92","s":"tb","x":1896110,"y":10019680},{"d":"11/08/92","s":"tb","x":1895430,"y":10019680},{"d":"11/08/92","s":"tb","x":1894790,"y":10019600},{"d":"11/08/92","s":"tb","x":1894060,"y":10019550},{"d":"11/08/92","s":"tb","x":1893370,"y":10019420},{"d":"11/08/92","s":"tb","x":1892600,"y":10019700},{"d":"11/08/92","s":"tb","x":1891900,"y":10019980},{"d":"11/08/92","s":"tb","x":1891100,"y":10020020},{"d":"11/08/92","s":"tb","x":1890300,"y":10019850},{"d":"11/08/92","s":"tb","x":1889500,"y":10019980},{"d":"11/08/92","s":"tb","x":1888700,"y":10019700},
{"d":"11/08/92","s":"tb","x":1887650,"y":10020320},{"d":"11/08/92","s":"tb","x":1887100,"y":10020960},{"d":"11/08/92","s":"tb","x":1886710,"y":10021480},{"d":"11/08/92","s":"tb","x":1886500,"y":10021900},
{"d":"11/08/92","s":"tb","x":1885800,"y":10021950},{"d":"11/08/92","s":"tb","x":1885100,"y":10022000},{"d":"11/08/92","s":"tb","x":1884300,"y":10022000},{"d":"11/08/92","s":"tb","x":1883600,"y":10022020},{"d":"11/08/92","s":"tb","x":1882900,"y":10022030},{"d":"11/08/92","s":"tb","x":1882100,"y":10022030},{"d":"11/08/92","s":"tb","x":1881400,"y":10022000},{"d":"11/08/92","s":"tb","x":1880700,"y":10022000},{"d":"11/08/92","s":"tb","x":1879900,"y":10022000},{"d":"11/08/92","s":"tb","x":1879200,"y":10022030},{"d":"11/08/92","s":"tb","x":1878500,"y":10022010},{"d":"11/08/92","s":"tb","x":1877800,"y":10021980},{"d":"11/08/92","s":"tb","x":1877100,"y":10021960},{"d":"11/08/92","s":"tb","x":1876400,"y":10021950},{"d":"11/08/92","s":"tb","x":1875700,"y":10021920},{"d":"11/08/92","s":"tb","x":1875000,"y":10021850},{"d":"11/08/92","s":"tb","x":1874300,"y":10021780},{"d":"11/08/92","s":"tb","x":1873600,"y":10021740},{"d":"11/08/92","s":"tb","x":1872900,"y":10021730},{"d":"11/08/92","s":"tb","x":1872200,"y":10021780},{"d":"11/08/92","s":"tb","x":1871500,"y":10021850},{"d":"11/08/92","s":"tb","x":1870800,"y":10021820},{"d":"11/08/92","s":"tb","x":1870100,"y":10021760},{"d":"11/08/92","s":"tb","x":1869400,"y":10021740},{"d":"11/08/92","s":"tb","x":1868700,"y":10021730},{"d":"11/08/92","s":"tb","x":1868200,"y":10021740},{"d":"11/08/92","s":"tb","x":1867800,"y":10021820},{"d":"11/08/92","s":"tb","x":1867560,"y":10021820},
{"d":"11/08/92","s":"tb","x":1867560,"y":10021090},{"d":"11/08/92","s":"tb","x":1867560,"y":10020410},{"d":"11/08/92","s":"tb","x":1867560,"y":10019680},{"d":"11/08/92","s":"tb","x":1867630,"y":10019170},
{"d":"11/08/92","s":"tb","x":1867850,"y":10019120},{"d":"11/08/92","s":"tb","x":1868700,"y":10019120},{"d":"11/08/92","s":"tb","x":1869470,"y":10019170},{"d":"11/08/92","s":"tb","x":1870410,"y":10019340},{"d":"11/08/92","s":"tb","x":1871180,"y":10019250},{"d":"11/08/92","s":"tb","x":1872040,"y":10019250},{"d":"11/08/92","s":"tb","x":1872900,"y":10019250},{"d":"11/08/92","s":"tb","x":1873750,"y":10019250},{"d":"11/08/92","s":"tb","x":1874610,"y":10019170},{"d":"11/08/92","s":"tb","x":1875460,"y":10019120},{"d":"11/08/92","s":"tb","x":1876190,"y":10019170},{"d":"11/08/92","s":"tb","x":1877040,"y":10019470},{"d":"11/08/92","s":"tb","x":1877900,"y":10019550},{"d":"11/08/92","s":"tb","x":1878760,"y":10019550},{"d":"11/08/92","s":"tb","x":1879620,"y":10019550},{"d":"11/08/92","s":"tb","x":1880470,"y":10019600},{"d":"11/08/92","s":"tb","x":1881200,"y":10019550},{"d":"11/08/92","s":"tb","x":1882050,"y":10019550},{"d":"11/08/92","s":"tb","x":1882900,"y":10019550},{"d":"11/08/92","s":"tb","x":1883670,"y":10019550},{"d":"11/08/92","s":"tb","x":1884530,"y":10019600},{"d":"11/08/92","s":"tb","x":1885470,"y":10019550},{"d":"11/08/92","s":"tb","x":1886240,"y":10019680},{"d":"11/08/92","s":"tb","x":1887100,"y":10019890},
{"d":"11/08/92","s":"tb","x":1887570,"y":10020750},{"d":"11/08/92","s":"tb","x":1887990,"y":10021300},{"d":"11/08/92","s":"tb","x":1888640,"y":10021560},{"d":"11/08/92","s":"tb","x":1889360,"y":10021650},{"d":"11/08/92","s":"tb","x":1890090,"y":10021690},{"d":"11/08/92","s":"tb","x":1890770,"y":10021780},{"d":"11/08/92","s":"tb","x":1891500,"y":10021730},{"d":"11/08/92","s":"tb","x":1892140,"y":10021950}
]},
"layer":[
{"mark":{"type":"line","strokeWidth":2.5,"clip":true},
 "encoding":{
  "x":{"field":"x","type":"quantitative","scale":{"domain":[1860000,1905000],"nice":false,"zero":false},
   "axis":{"orient":"bottom","values":[1860000,1865000,1870000,1875000,1880000,1885000,1890000,1895000,1900000,1905000],"format":"d","tickSize":-22,"tickWidth":2,"tickColor":"black","domainColor":"black","domainWidth":2,"grid":true,"gridColor":"black","gridDash":[2,2],"gridWidth":1,"gridOpacity":1,"labelFontSize":21.5,"labelColor":"black","labelPadding":27,"labelFlush":false,"labelOverlap":false,"title":"UTM-X (ft)","titleFontSize":23,"titleFontWeight":"normal","titleColor":"black","titlePadding":31}},
  "y":{"field":"y","type":"quantitative","scale":{"domain":[10000000,10045000],"nice":false,"zero":false},
   "axis":{"orient":"left","values":[10000000,10005000,10010000,10015000,10020000,10025000,10030000,10035000,10040000,10045000],"format":"d","tickSize":-22,"tickWidth":2,"tickColor":"black","domainColor":"black","domainWidth":2,"grid":true,"gridColor":"black","gridDash":[2,2],"gridWidth":1,"gridOpacity":1,"labelFontSize":21.5,"labelColor":"black","labelPadding":48,"labelFlush":false,"labelOverlap":false,"title":"UTM-Y (ft)","titleFontSize":22.5,"titleFontWeight":"normal","titleColor":"black","titleAngle":0,"titleAlign":"left","titleBaseline":"middle","titleX":-213,"titleY":531}},
  "detail":{"field":"s"},
  "order":{"value":null},
  "color":{"field":"d","type":"nominal","scale":{"domain":["11/06/92","11/08/92"],"range":["black","black"]},
   "legend":{"orient":"none","legendX":760,"legendY":884,"title":" ","titleOrient":"bottom","titleFontSize":10,"titlePadding":9,"symbolType":"M-8.8,0H8.8","symbolSize":100,"symbolStrokeWidth":2.2,"symbolStrokeColor":"black","symbolOffset":33,"labelOffset":47,"labelFontSize":23,"labelColor":"black","labelLimit":300,"padding":14,"rowPadding":13,"strokeColor":"black","fillColor":"white"}}
 }},
{"mark":{"type":"point","filled":true,"color":"black","strokeWidth":0,"size":200,"opacity":1,"clip":true},
 "encoding":{
  "x":{"field":"x","type":"quantitative","axis":{"orient":"bottom","values":[1861000,1862000,1863000,1864000,1866000,1867000,1868000,1869000,1871000,1872000,1873000,1874000,1876000,1877000,1878000,1879000,1881000,1882000,1883000,1884000,1886000,1887000,1888000,1889000,1891000,1892000,1893000,1894000,1896000,1897000,1898000,1899000,1901000,1902000,1903000,1904000],"tickSize":-10,"tickWidth":2,"tickColor":"black","labels":false,"grid":false,"domain":false,"title":null}},
  "y":{"field":"y","type":"quantitative","axis":{"orient":"left","values":[10001000,10002000,10003000,10004000,10006000,10007000,10008000,10009000,10011000,10012000,10013000,10014000,10016000,10017000,10018000,10019000,10021000,10022000,10023000,10024000,10026000,10027000,10028000,10029000,10031000,10032000,10033000,10034000,10036000,10037000,10038000,10039000,10041000,10042000,10043000,10044000],"tickSize":-11,"tickWidth":2,"tickColor":"black","labels":false,"grid":false,"domain":false,"title":null}},
  "shape":{"field":"d","type":"nominal","scale":{"range":["M-0.95,0A0.95,0.95,0,1,0,0.95,0A0.95,0.95,0,1,0,-0.95,0ZM-0.36,0A0.36,0.36,0,1,1,0.36,0A0.36,0.36,0,1,1,-0.36,0Z","triangle-up"]},
   "legend":{"orient":"none","legendX":760,"legendY":884,"title":null,"symbolSize":200,"symbolFillColor":"black","symbolStrokeWidth":0,"symbolOffset":30,"labelExpr":"''","labelOffset":47,"labelFontSize":23,"labelLimit":300,"padding":14,"rowPadding":13}}
 }}
],
"resolve":{"axis":{"x":"independent","y":"independent"}}
}
